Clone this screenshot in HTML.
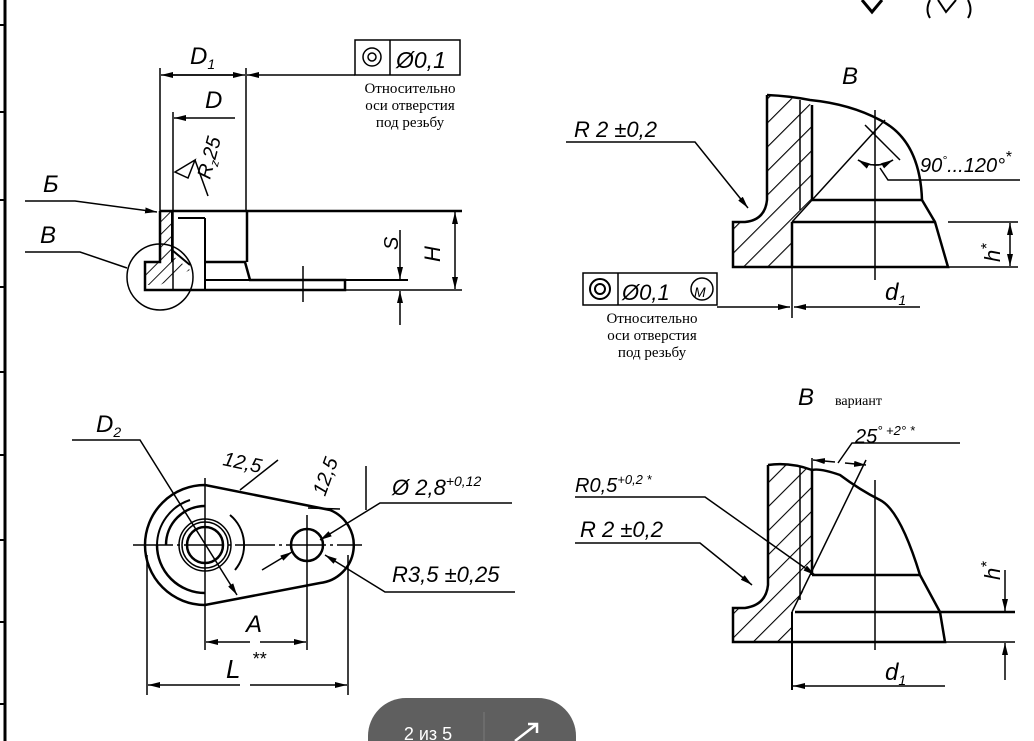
<!DOCTYPE html>
<html><head><meta charset="utf-8"><style>
html,body{margin:0;padding:0;background:#fff;}
svg{display:block;}
.l{font-family:"Liberation Sans","DejaVu Sans",sans-serif;font-style:italic;fill:#000;}
.s{font-family:"Liberation Serif","DejaVu Serif",serif;fill:#000;}
</style></head><body>
<svg width="1034" height="741" viewBox="0 0 1034 741" xmlns="http://www.w3.org/2000/svg">
<defs>
<marker id="a" viewBox="0 0 12 6" refX="12" refY="3" markerWidth="12" markerHeight="6" orient="auto" markerUnits="userSpaceOnUse"><path d="M0,0 L12,3 L0,6 z" fill="#000"/></marker>
<pattern id="h" width="17" height="17" patternUnits="userSpaceOnUse" patternTransform="rotate(45)"><line x1="0" y1="0" x2="0" y2="17" stroke="#000" stroke-width="2.2"/></pattern>
<pattern id="h2" width="9" height="9" patternUnits="userSpaceOnUse" patternTransform="rotate(45)"><line x1="0" y1="0" x2="0" y2="9" stroke="#000" stroke-width="1.8"/></pattern>
</defs>
<g stroke="#000" fill="none" stroke-width="1.5">
<line x1="5" y1="0" x2="5" y2="741" stroke-width="3"/>
<g stroke-width="2"><line x1="0" y1="25" x2="6" y2="25"/><line x1="0" y1="112" x2="6" y2="112"/><line x1="0" y1="200" x2="6" y2="200"/><line x1="0" y1="287" x2="6" y2="287"/><line x1="0" y1="372" x2="6" y2="372"/><line x1="0" y1="455" x2="6" y2="455"/><line x1="0" y1="540" x2="6" y2="540"/><line x1="0" y1="622" x2="6" y2="622"/><line x1="0" y1="704" x2="6" y2="704"/></g>
<path d="M862,0 L872,12 L882,0" stroke-width="3"/>
<path d="M930,0 Q925,10 930,18 M968,0 Q973,10 968,18 M938,0 L946,12 L956,0" stroke-width="2"/>

<!-- top-left view -->
<line x1="160" y1="68" x2="160" y2="212"/>
<line x1="246" y1="68" x2="246" y2="212"/>
<line x1="240" y1="75" x2="161" y2="75" marker-end="url(#a)"/>
<line x1="170" y1="75" x2="245" y2="75" marker-end="url(#a)"/>
<line x1="355" y1="75" x2="247" y2="75" marker-end="url(#a)"/>
<rect x="355" y="40" width="105" height="35"/>
<line x1="390" y1="40" x2="390" y2="75"/>
<circle cx="372" cy="57" r="9"/><circle cx="372" cy="57" r="4"/>
<line x1="173" y1="112" x2="173" y2="290"/>
<line x1="235" y1="118" x2="174" y2="118" marker-end="url(#a)"/>
<path d="M175,172 L195,160 L188,178 z"/>
<line x1="195" y1="160" x2="208" y2="196"/>
<line x1="160" y1="211" x2="462" y2="211" stroke-width="2.5"/>
<path d="M160,211 L172,211 L172,255 L190,270 L160,285 L145,285 L145,262 L160,262 Z" fill="url(#h2)" stroke="none"/>
<path d="M160,211 L160,262 L145,262 L145,290 L345,290 L345,280 L250,280 L245,262 L205,262" stroke-width="2.5"/>
<line x1="172" y1="211" x2="172" y2="262" stroke-width="2"/>
<line x1="247" y1="211" x2="247" y2="262" stroke-width="2.5"/>
<line x1="205" y1="280" x2="408" y2="280" stroke-width="2"/>
<line x1="205" y1="218" x2="205" y2="290" stroke-width="2"/>
<line x1="178" y1="218" x2="205" y2="218" stroke-width="2"/>
<line x1="172" y1="250" x2="190" y2="265" stroke-width="2"/>
<line x1="303" y1="266" x2="303" y2="302"/>
<circle cx="160" cy="277" r="33"/>
<line x1="345" y1="290" x2="462" y2="290"/>
<line x1="455" y1="250" x2="455" y2="212" marker-end="url(#a)"/>
<line x1="455" y1="250" x2="455" y2="289" marker-end="url(#a)"/>
<line x1="400" y1="230" x2="400" y2="279" marker-end="url(#a)"/>
<line x1="400" y1="325" x2="400" y2="291" marker-end="url(#a)"/>
<path d="M25,201 L75,201 L157,212" marker-end="url(#a)"/>
<path d="M25,252 L80,252 L127,268"/>

<!-- detail B -->
<path d="M767,95 L767,200 Q765,220 745,222 L733,222 L733,267 L792,267 L792,222 L812,200 L812,105 Q790,96 767,95" fill="url(#h)" stroke="none"/>
<path d="M767,95 L767,200 Q765,220 745,222 L733,222 L733,267 L948,267 L935,222 L922,200 Q920,140 880,120 Q850,104 810,100 Q790,96 767,95" stroke-width="2.5"/>
<line x1="812" y1="105" x2="812" y2="200" stroke-width="2.5"/>
<line x1="800" y1="100" x2="800" y2="210" stroke-width="1.5"/>
<line x1="812" y1="200" x2="922" y2="200" stroke-width="2.5"/>
<line x1="792" y1="222" x2="935" y2="222" stroke-width="2.5"/>
<line x1="792" y1="222" x2="792" y2="267" stroke-width="2.5"/>
<line x1="792" y1="222" x2="885" y2="120"/>
<line x1="875" y1="110" x2="875" y2="280"/>
<line x1="865" y1="125" x2="900" y2="160"/>
<path d="M858,160 Q875,170 893,160" marker-end="url(#a)"/>
<path d="M893,160 Q875,170 858,160" marker-end="url(#a)"/>
<path d="M880,168 L888,180 L1020,180"/>
<path d="M566,142 L695,142 L748,208" marker-end="url(#a)"/>
<line x1="948" y1="222" x2="1018" y2="222"/>
<line x1="948" y1="267" x2="1018" y2="267"/>
<line x1="1010" y1="245" x2="1010" y2="223" marker-end="url(#a)"/>
<line x1="1010" y1="245" x2="1010" y2="266" marker-end="url(#a)"/>
<rect x="583" y="273" width="134" height="32"/>
<line x1="618" y1="273" x2="618" y2="305"/>
<circle cx="600" cy="289" r="10" stroke-width="2"/><circle cx="600" cy="289" r="5" stroke-width="2"/>
<circle cx="702" cy="289" r="11"/>
<line x1="717" y1="307" x2="790" y2="307" marker-end="url(#a)"/>
<line x1="920" y1="307" x2="794" y2="307" marker-end="url(#a)"/>
<line x1="792" y1="267" x2="792" y2="318"/>

<!-- plan view -->
<path d="M205,485 A60,60 0 0 0 205,605 L320,583 A38,38 0 0 0 330,510 Z" stroke-width="2.5"/>
<circle cx="205" cy="545" r="18" stroke-width="2.5"/>
<circle cx="205" cy="545" r="23"/>
<circle cx="205" cy="545" r="26"/>
<path d="M166,545 A39,39 0 0 1 205,506" stroke-width="2.5"/>
<path d="M230,515 A39,39 0 0 1 235,570" stroke-width="2"/>
<path d="M157,545 A48,48 0 0 0 205,593" stroke-width="2.5"/>
<path d="M157,545 A48,48 0 0 1 190,500" stroke-width="2"/>
<circle cx="307" cy="545" r="16" stroke-width="2.5"/>
<line x1="133" y1="545" x2="362" y2="545" stroke-dasharray="40,4,3,4"/>
<line x1="205" y1="478" x2="205" y2="650"/>
<line x1="307" y1="515" x2="307" y2="650"/>
<line x1="147" y1="555" x2="147" y2="695"/>
<line x1="348" y1="555" x2="348" y2="695"/>
<line x1="250" y1="642" x2="206" y2="642" marker-end="url(#a)"/>
<line x1="260" y1="642" x2="306" y2="642" marker-end="url(#a)"/>
<line x1="240" y1="685" x2="148" y2="685" marker-end="url(#a)"/>
<line x1="250" y1="685" x2="347" y2="685" marker-end="url(#a)"/>
<path d="M72,440 L140,440 L237,595" marker-end="url(#a)"/>
<line x1="240" y1="490" x2="278" y2="460"/>
<line x1="308" y1="508" x2="340" y2="509"/>
<line x1="366" y1="466" x2="366" y2="510"/>
<path d="M512,503 L380,503 L320,540" marker-end="url(#a)"/>
<line x1="262" y1="570" x2="292" y2="552" marker-end="url(#a)"/>
<path d="M515,592 L385,592 L325,555" marker-end="url(#a)"/>

<!-- variant -->
<path d="M768,465 L768,585 Q766,605 745,608 L733,608 L733,642 L792,642 L792,612 L812,575 L812,470 Q790,462 768,465" fill="url(#h)" stroke="none"/>
<path d="M768,465 L768,585 Q766,605 745,608 L733,608 L733,642 L945,642 L940,612 L920,575 Q900,510 880,500 Q860,490 840,475 Q820,468 812,470 Q790,462 768,465" stroke-width="2.5"/>
<line x1="812" y1="470" x2="812" y2="575" stroke-width="2.5"/>
<line x1="800" y1="466" x2="800" y2="600" stroke-width="1.5"/>
<line x1="812" y1="575" x2="920" y2="575" stroke-width="2.5"/>
<line x1="795" y1="612" x2="1015" y2="612" stroke-width="2.5"/>
<line x1="945" y1="642" x2="1015" y2="642"/>
<line x1="792" y1="612" x2="792" y2="690" stroke-width="2"/>
<line x1="792" y1="612" x2="866" y2="460"/>
<line x1="812" y1="458" x2="812" y2="470"/>
<line x1="875" y1="480" x2="875" y2="650"/>
<line x1="835" y1="462" x2="813" y2="460" marker-end="url(#a)"/>
<line x1="845" y1="463" x2="866" y2="465" marker-end="url(#a)"/>
<path d="M960,443 L852,443 L838,463"/>
<line x1="1005" y1="570" x2="1005" y2="611" marker-end="url(#a)"/>
<line x1="1005" y1="680" x2="1005" y2="643" marker-end="url(#a)"/>
<line x1="945" y1="686" x2="793" y2="686" marker-end="url(#a)"/>
<path d="M575,497 L705,497 L815,575" marker-end="url(#a)"/>
<path d="M575,543 L700,543 L752,585" marker-end="url(#a)"/>
</g>

<text class="l" x="190" y="64" font-size="24">D<tspan font-size="14" dy="5">1</tspan></text>
<text class="l" x="205" y="108" font-size="24">D</text>
<text class="l" x="396" y="68" font-size="23">Ø0,1</text>
<text class="s" x="410" y="93" font-size="15" text-anchor="middle">Относительно</text>
<text class="s" x="410" y="110" font-size="15" text-anchor="middle">оси отверстия</text>
<text class="s" x="410" y="127" font-size="15" text-anchor="middle">под резьбу</text>
<text class="l" transform="translate(210,180) rotate(-75)" font-size="20">R<tspan font-size="12" dy="4">z</tspan><tspan dy="-4">25</tspan></text>
<text class="l" x="43" y="192" font-size="24">Б</text>
<text class="l" x="40" y="243" font-size="24">B</text>
<text class="l" transform="translate(398,250) rotate(-90)" font-size="20">S</text>
<text class="l" transform="translate(440,262) rotate(-90)" font-size="22">H</text>

<text class="l" x="842" y="84" font-size="24">B</text>
<text class="l" x="574" y="137" font-size="22">R 2 ±0,2</text>
<text class="l" x="920" y="172" font-size="20">90<tspan font-size="12" dy="-8">°</tspan><tspan dy="8">...120°</tspan><tspan font-size="16" dy="-10">*</tspan></text>
<text class="l" transform="translate(1000,262) rotate(-90)" font-size="22">h<tspan font-size="16" dy="-8">*</tspan></text>
<text class="l" x="622" y="300" font-size="22">Ø0,1</text>
<text class="l" x="694" y="297" font-size="14">M</text>
<text class="l" x="885" y="300" font-size="24">d<tspan font-size="14" dy="5">1</tspan></text>
<text class="s" x="652" y="323" font-size="15" text-anchor="middle">Относительно</text>
<text class="s" x="652" y="340" font-size="15" text-anchor="middle">оси отверстия</text>
<text class="s" x="652" y="357" font-size="15" text-anchor="middle">под резьбу</text>

<text class="l" x="96" y="432" font-size="24">D<tspan font-size="14" dy="5">2</tspan></text>
<text class="l" transform="translate(222,465) rotate(12)" font-size="20">12,5</text>
<text class="l" transform="translate(325,497) rotate(-70)" font-size="20">12,5</text>
<text class="l" x="392" y="495" font-size="22">Ø 2,8<tspan font-size="14" dy="-9">+0,12</tspan></text>
<text class="l" x="392" y="582" font-size="22">R3,5 ±0,25</text>
<text class="l" x="246" y="632" font-size="24">A</text>
<text class="l" x="226" y="678" font-size="26">L</text>
<text class="l" x="252" y="665" font-size="18">**</text>

<text class="l" x="798" y="405" font-size="24">B</text>
<text class="s" x="835" y="405" font-size="14">вариант</text>
<text class="l" x="855" y="443" font-size="20">25<tspan font-size="13" dy="-8">° +2° *</tspan></text>
<text class="l" x="575" y="492" font-size="20">R0,5<tspan font-size="13" dy="-8">+0,2 *</tspan></text>
<text class="l" x="580" y="537" font-size="22">R 2 ±0,2</text>
<text class="l" transform="translate(1000,580) rotate(-90)" font-size="22">h<tspan font-size="16" dy="-8">*</tspan></text>
<text class="l" x="885" y="680" font-size="24">d<tspan font-size="14" dy="5">1</tspan></text>

<rect x="368" y="698" width="208" height="80" rx="38" fill="#5f5f5f"/>
<line x1="484" y1="712" x2="484" y2="741" stroke="#7a7a7a" stroke-width="1"/>
<text x="428" y="740" font-family="Liberation Sans, DejaVu Sans, sans-serif" font-size="18" fill="#fff" text-anchor="middle">2 из 5</text>
<path d="M515,741 L537,724 M528,724 L537,724 L537,733" stroke="#fff" stroke-width="2.5" fill="none"/>
</svg>
</body></html>
